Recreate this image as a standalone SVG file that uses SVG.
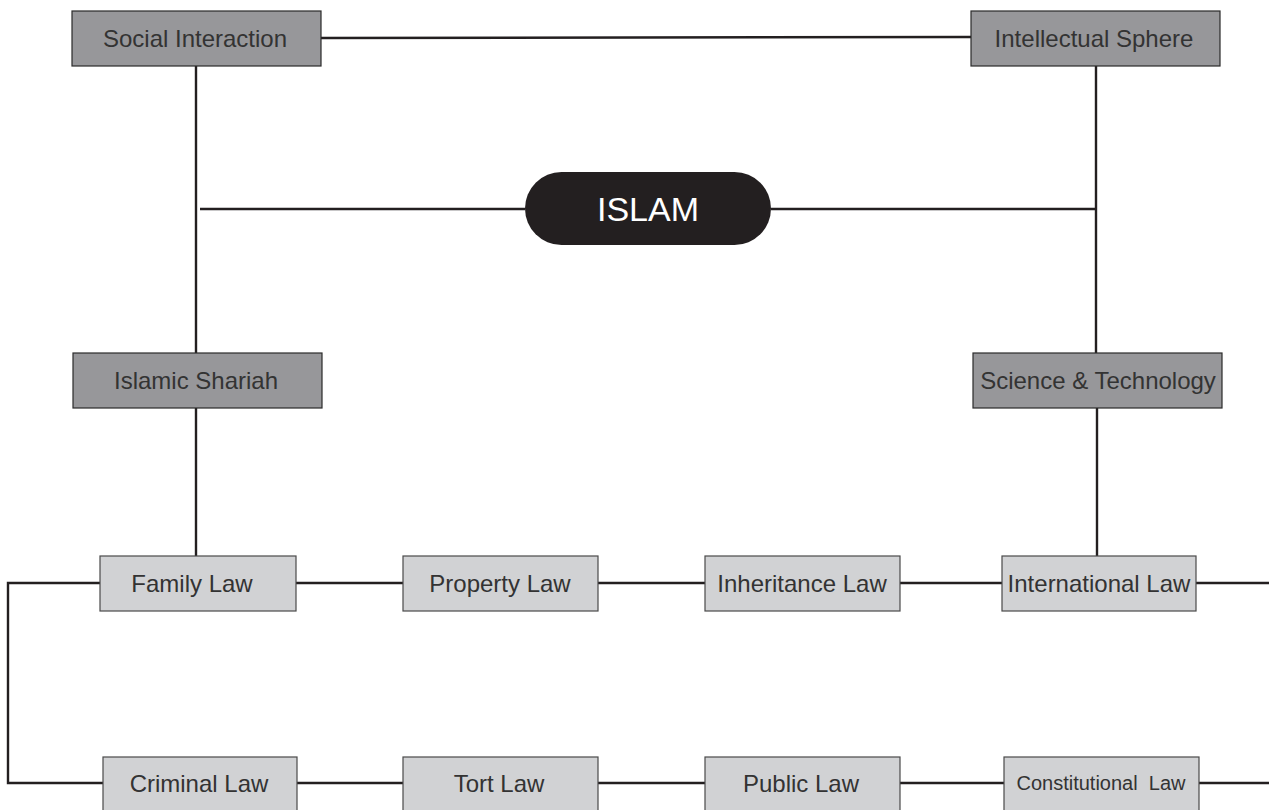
<svg xmlns="http://www.w3.org/2000/svg" width="1269" height="810" viewBox="0 0 1269 810">
<style>
.dark{fill:#97979a;stroke:#2b2b2b;stroke-width:1.2}
.light{fill:#d1d2d4;stroke:#4a4a4a;stroke-width:1.2}
.t{font-family:"Liberation Sans",Arial,sans-serif;font-size:24px;fill:#333333;text-anchor:middle;dominant-baseline:central}
.ln{stroke:#231f20;stroke-width:2.4;fill:none}
</style>
<rect width="1269" height="810" fill="#ffffff"/>
<g id="connectors">
<line class="ln" x1="321" y1="38" x2="971" y2="37"/>
<line class="ln" x1="196" y1="66" x2="196" y2="353"/>
<line class="ln" x1="1096" y1="66" x2="1096" y2="353"/>
<line class="ln" x1="200" y1="209" x2="525" y2="209"/>
<line class="ln" x1="771" y1="209" x2="1096" y2="209"/>
<line class="ln" x1="196" y1="408" x2="196" y2="556"/>
<line class="ln" x1="1097" y1="408" x2="1097" y2="556"/>
<line class="ln" x1="296" y1="583" x2="403" y2="583"/>
<line class="ln" x1="598" y1="583" x2="705" y2="583"/>
<line class="ln" x1="900" y1="583" x2="1002" y2="583"/>
<line class="ln" x1="1196" y1="583" x2="1269" y2="583"/>
<polyline class="ln" points="100,583 8,583 8,783 103,783"/>
<line class="ln" x1="297" y1="783" x2="403" y2="783"/>
<line class="ln" x1="598" y1="783" x2="705" y2="783"/>
<line class="ln" x1="900" y1="783" x2="1004" y2="783"/>
<line class="ln" x1="1199" y1="783" x2="1269" y2="783"/>
</g>
<g id="social-interaction"><rect class="dark" x="72" y="11" width="249" height="55"/><text class="t" x="195" y="38">Social Interaction</text></g>
<g id="intellectual-sphere"><rect class="dark" x="971" y="11" width="249" height="55"/><text class="t" x="1094" y="38">Intellectual Sphere</text></g>
<g id="islam"><rect x="525" y="172" width="246" height="73" rx="36.5" fill="#231f20"/><text class="t" x="648" y="209" style="font-size:34px;fill:#ffffff">ISLAM</text></g>
<g id="islamic-shariah"><rect class="dark" x="73" y="353" width="249" height="55"/><text class="t" x="196" y="380">Islamic Shariah</text></g>
<g id="science-technology"><rect class="dark" x="973" y="353" width="249" height="55"/><text class="t" x="1098" y="380">Science &amp; Technology</text></g>
<g id="family-law"><rect class="light" x="100" y="556" width="196" height="55"/><text class="t" x="192" y="583">Family Law</text></g>
<g id="property-law"><rect class="light" x="403" y="556" width="195" height="55"/><text class="t" x="500" y="583">Property Law</text></g>
<g id="inheritance-law"><rect class="light" x="705" y="556" width="195" height="55"/><text class="t" x="802" y="583">Inheritance Law</text></g>
<g id="international-law"><rect class="light" x="1002" y="556" width="194" height="55"/><text class="t" x="1099" y="583">International Law</text></g>
<g id="criminal-law"><rect class="light" x="103" y="757" width="194" height="60"/><text class="t" x="199" y="783">Criminal Law</text></g>
<g id="tort-law"><rect class="light" x="403" y="757" width="195" height="60"/><text class="t" x="499" y="783">Tort Law</text></g>
<g id="public-law"><rect class="light" x="705" y="757" width="195" height="60"/><text class="t" x="801" y="783">Public Law</text></g>
<g id="constitutional-law"><rect class="light" x="1004" y="757" width="195" height="60"/><text class="t" x="1101" y="783" style="font-size:20px;white-space:pre">Constitutional  Law</text></g>
</svg>
